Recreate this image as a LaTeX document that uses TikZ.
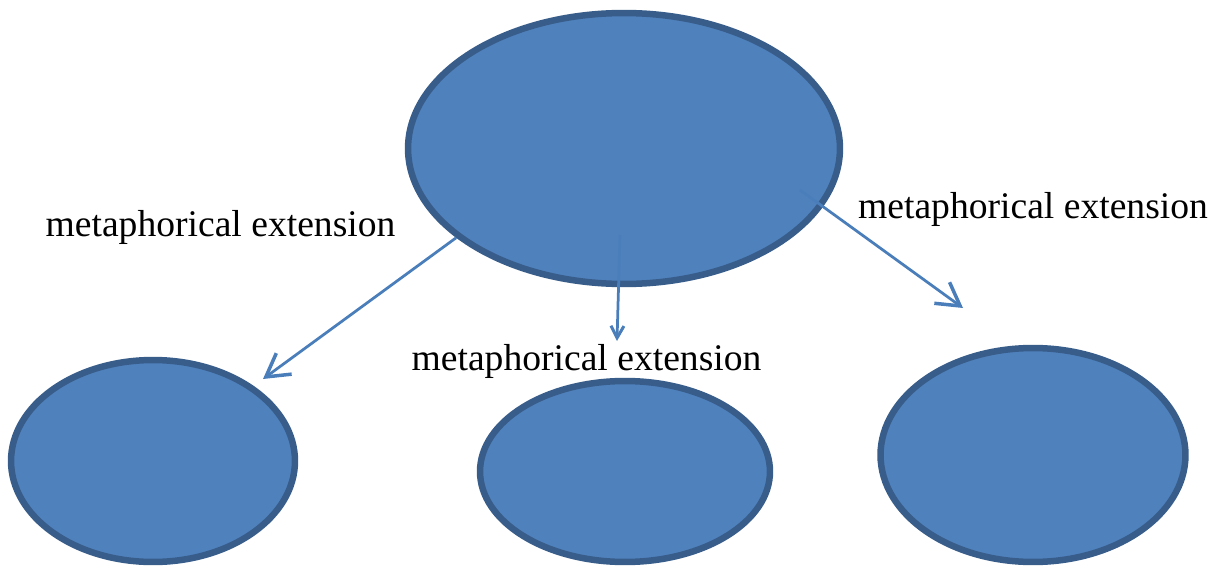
\documentclass[tikz,border=0pt]{standalone}
\usepackage{fontspec}
\setmainfont{Liberation Serif}
\usetikzlibrary{shapes.geometric,arrows.meta}
\definecolor{relleno}{HTML}{4F81BD}
\definecolor{borde}{HTML}{385D8A}
\definecolor{flecha}{HTML}{4A7EBB}
\begin{document}
\begin{tikzpicture}[x=0.02cm,y=-0.02cm,
    elipse/.style={ellipse, fill=relleno, draw=borde, line width=0.13cm, inner sep=0pt},
    flechita/.style={draw=flecha, line width=0.055cm, -{Straight Barb[length=0.45cm,width=0.52cm,line width=0.07cm]}},
    flechitac/.style={draw=flecha, line width=0.055cm, -{Straight Barb[length=0.24cm,width=0.26cm,line width=0.06cm]}},
    etiqueta/.style={anchor=base, inner sep=0pt, font=\fontsize{21.4}{25}\selectfont}]
    \useasboundingbox (0,0) rectangle (1215,568);

    %Elipses
    \node[elipse, minimum width=8.64cm, minimum height=5.42cm] (centro) at (624,148.5) {};
    \node[elipse, minimum width=5.68cm, minimum height=4.04cm] (izq) at (153,461) {};
    \node[elipse, minimum width=5.8cm, minimum height=3.62cm] (medio) at (625,471.5) {};
    \node[elipse, minimum width=6.1cm, minimum height=4.28cm] (der) at (1033,455) {};

    %Extremos de las flechas
    \coordinate (s2) at (620,235);
    \coordinate (s3) at (800,190);
    \coordinate (t1) at (263,379);
    \coordinate (t2) at (617,341);
    \coordinate (t3) at (963,308);

    \draw[flechita] (centro.208) -- (t1);
    \draw[flechitac] (s2) -- (t2);
    \draw[flechita] (s3) -- (t3);

    \node[etiqueta] (e1) at (220.5,236) {metaphorical extension};
    \node[etiqueta] (e2) at (586.5,370) {metaphorical extension};
    \node[etiqueta] (e3) at (1033,218) {metaphorical extension};
\end{tikzpicture}
\end{document}
